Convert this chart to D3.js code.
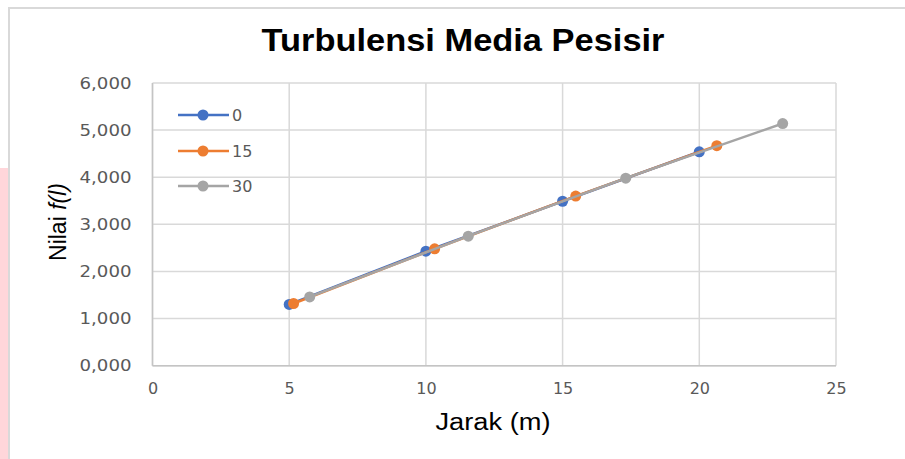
<!DOCTYPE html>
<html><head><meta charset="utf-8">
<script src="https://cdn.jsdelivr.net/npm/d3@7"></script>
<style>html,body{margin:0;padding:0;background:#fff;}svg{display:block;}</style>
</head><body>
<svg id="chart" width="905" height="459"></svg>
<script>
const seriesNames = ["0", "15", "30"];
const seriesColors = ["#4472c4", "#ed7d31", "#a5a5a5"];
const xs0 = [5, 10, 15, 20];
const ys0 = [1.30, 2.43, 3.49, 4.54];
const xs15 = [5.16, 10.32, 15.48, 20.64];
const ys15 = [1.32, 2.48, 3.60, 4.67];
const xs30 = [5.75, 11.55, 17.31, 23.05];
const ys30 = [1.46, 2.75, 3.98, 5.14];
const xTicks = [0, 5, 10, 15, 20, 25];
const yTicks = [0, 1, 2, 3, 4, 5, 6];
const titleText = "Turbulensi Media Pesisir";
const xTitle = "Jarak (m)";

const series = [
  {name: seriesNames[0], color: seriesColors[0], pts: xs0.map((x,i)=>[x, ys0[i]])},
  {name: seriesNames[1], color: seriesColors[1], pts: xs15.map((x,i)=>[x, ys15[i]])},
  {name: seriesNames[2], color: seriesColors[2], pts: xs30.map((x,i)=>[x, ys30[i]])}
];

const svg = d3.select("#chart");
svg.append("rect").attr("width",905).attr("height",459).attr("fill","#fff");
svg.append("rect").attr("x",0).attr("y",168).attr("width",8).attr("height",291).attr("fill","#ffd6da");
svg.append("rect").attr("x",9).attr("y",8).attr("width",920).attr("height",470)
  .attr("fill","#fff").attr("stroke","#d9d9d9").attr("stroke-width",2);

const x = d3.scaleLinear().domain([0,25]).range([152.5, 836]);
const y = d3.scaleLinear().domain([0,6]).range([365.7, 83]);

const loc = d3.formatLocale({decimal:",", thousands:".", grouping:[3], currency:["",""]});
const yFmt = loc.format(".3f");

const g = svg.append("g");
g.selectAll("line.hg").data(yTicks).join("line")
  .attr("x1", x(0)).attr("x2", x(25)).attr("y1", d=>y(d)).attr("y2", d=>y(d))
  .attr("stroke","#d9d9d9").attr("stroke-width",1.5);
g.selectAll("line.vg").data(xTicks).join("line")
  .attr("y1", y(0)).attr("y2", y(6)).attr("x1", d=>x(d)).attr("x2", d=>x(d))
  .attr("stroke","#d9d9d9").attr("stroke-width",1.5);
g.append("line").attr("x1",x(0)).attr("x2",x(0)).attr("y1",y(0)).attr("y2",y(6)).attr("stroke","#c4c4c4").attr("stroke-width",1.5);
g.append("line").attr("x1",x(0)).attr("x2",x(25)).attr("y1",y(0)).attr("y2",y(0)).attr("stroke","#c4c4c4").attr("stroke-width",1.5);

const yAxis = svg.append("g").attr("transform",`translate(${x(0)},0)`)
  .call(d3.axisLeft(y).tickValues(yTicks).tickFormat(yFmt).tickSize(0).tickPadding(21));
const xAxis = svg.append("g").attr("transform",`translate(0,${y(0)})`)
  .call(d3.axisBottom(x).tickValues(xTicks).tickSize(0).tickPadding(17));
[yAxis, xAxis].forEach(a => {
  a.select(".domain").remove();
  a.selectAll("text").attr("fill","#595959").style("font-family","'DejaVu Sans', sans-serif").style("font-size","16px");
});
yAxis.selectAll("text").attr("textLength", 52).attr("lengthAdjust","spacingAndGlyphs");

const line = d3.line().x(d=>x(d[0])).y(d=>y(d[1]));
series.forEach(s => {
  svg.append("path").datum(s.pts).attr("d", line).attr("fill","none")
    .attr("stroke", s.color).attr("stroke-width", 2.5).attr("stroke-linecap","round");
  svg.selectAll(null).data(s.pts).join("circle")
    .attr("cx", d=>x(d[0])).attr("cy", d=>y(d[1])).attr("r", 5.5).attr("fill", s.color);
});

const legY = [115, 151, 186];
series.forEach((s,i) => {
  const lg = svg.append("g");
  lg.append("line").attr("x1",178).attr("x2",229).attr("y1",legY[i]).attr("y2",legY[i])
    .attr("stroke", s.color).attr("stroke-width",2.5);
  lg.append("circle").attr("cx",203).attr("cy",legY[i]).attr("r",5.5).attr("fill",s.color);
  lg.append("text").attr("x",232).attr("y",legY[i]).attr("dy","0.36em").text(s.name)
    .attr("fill","#595959").style("font-family","'DejaVu Sans', sans-serif").style("font-size","16px");
});

svg.append("text").attr("x",463).attr("y",51).attr("text-anchor","middle")
  .attr("textLength",403).attr("lengthAdjust","spacingAndGlyphs")
  .style("font-family","'Liberation Sans', Arial, sans-serif").style("font-weight","bold").style("font-size","32px")
  .attr("fill","#000").text(titleText);

svg.append("text").attr("x",493).attr("y",430).attr("text-anchor","middle")
  .attr("textLength",115).attr("lengthAdjust","spacingAndGlyphs")
  .style("font-family","'Liberation Sans', Arial, sans-serif").style("font-size","23px")
  .attr("fill","#000").text(xTitle);

const yt = svg.append("text").attr("transform","translate(66,222) rotate(-90)").attr("text-anchor","middle")
  .style("font-family","'Liberation Sans', Arial, sans-serif").style("font-size","23px").attr("fill","#000");
yt.append("tspan").text("Nilai ");
yt.append("tspan").style("font-style","italic").text("f(l)");
</script>
</body></html>
